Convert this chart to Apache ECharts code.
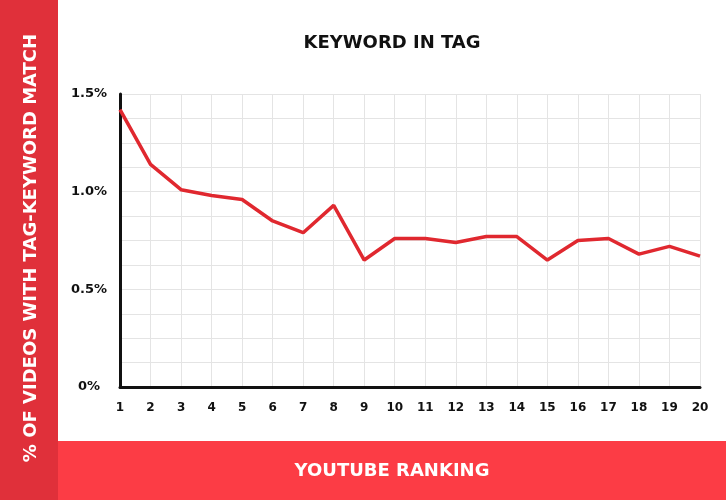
<!DOCTYPE html>
<html>
<head>
<meta charset="utf-8">
<script src="https://cdn.jsdelivr.net/npm/echarts@6/dist/echarts.min.js"></script>
<style>
html,body{margin:0;padding:0;background:#fff;}
#chart{width:726px;height:500px;}
</style>
</head>
<body>
<div id="chart"></div>
<script>
const categories = ['1','2','3','4','5','6','7','8','9','10','11','12','13','14','15','16','17','18','19','20'];
const values = [1.42, 1.14, 1.01, 0.98, 0.96, 0.85, 0.79, 0.93, 0.65, 0.76, 0.76, 0.74, 0.77, 0.77, 0.65, 0.75, 0.76, 0.68, 0.72, 0.67];
const titleText = 'KEYWORD IN TAG';
const yAxisTitle = '% OF VIDEOS WITH TAG-KEYWORD MATCH';
const xAxisTitle = 'YOUTUBE RANKING';

const chart = echarts.init(document.getElementById('chart'));
const fontFamily = '"DejaVu Sans", sans-serif';
chart.setOption({
  animation: false,
  backgroundColor: '#ffffff',
  grid: { left: 120, right: 26, top: 94, bottom: 113 },
  xAxis: {
    type: 'category',
    data: categories,
    boundaryGap: false,
    axisLine: { show: true, lineStyle: { color: '#111111', width: 3 } },
    axisTick: { show: false },
    axisLabel: { color: '#111111', fontFamily: fontFamily, fontWeight: 'bold', fontSize: 12, margin: 15 },
    splitLine: { show: true, lineStyle: { color: '#e4e4e4', width: 1 } }
  },
  yAxis: {
    type: 'value',
    min: 0, max: 1.5, interval: 0.5,
    axisLine: { show: true, lineStyle: { color: '#111111', width: 3 } },
    axisTick: { show: false },
    minorTick: { show: false, splitNumber: 4 },
    minorSplitLine: { show: true, lineStyle: { color: '#e4e4e4', width: 1 } },
    splitLine: { show: true, lineStyle: { color: '#e4e4e4', width: 1 } },
    axisLabel: {
      color: '#111111', fontFamily: fontFamily, fontWeight: 'bold', fontSize: 13,
      align: 'center', margin: 31,
      formatter: function (v) { return v === 0 ? '0%' : v.toFixed(1) + '%'; }
    }
  },
  series: [{
    type: 'line',
    data: values,
    symbol: 'none',
    lineStyle: { color: '#e0282f', width: 3.5 },
    itemStyle: { color: '#e0282f' }
  }],
  graphic: [
    { type: 'rect', z: -10, shape: { x: 0, y: 0, width: 58, height: 500 }, style: { fill: '#e0303a' } },
    { type: 'rect', z: -10, shape: { x: 58, y: 441, width: 668, height: 59 }, style: { fill: '#fc3c45' } },
    { type: 'text', z: 100, x: 392, y: 43, style: { text: titleText, fill: '#111111', font: 'bold 18px "DejaVu Sans", sans-serif', align: 'center', verticalAlign: 'middle' } },
    { type: 'text', z: 100, x: 392, y: 471, style: { text: xAxisTitle, fill: '#ffffff', font: 'bold 18px "DejaVu Sans", sans-serif', align: 'center', verticalAlign: 'middle' } },
    { type: 'text', z: 100, x: 31, y: 248, rotation: Math.PI / 2, style: { text: yAxisTitle, fill: '#ffffff', font: 'bold 18px "DejaVu Sans", sans-serif', align: 'center', verticalAlign: 'middle' } }
  ]
});
</script>
</body>
</html>
